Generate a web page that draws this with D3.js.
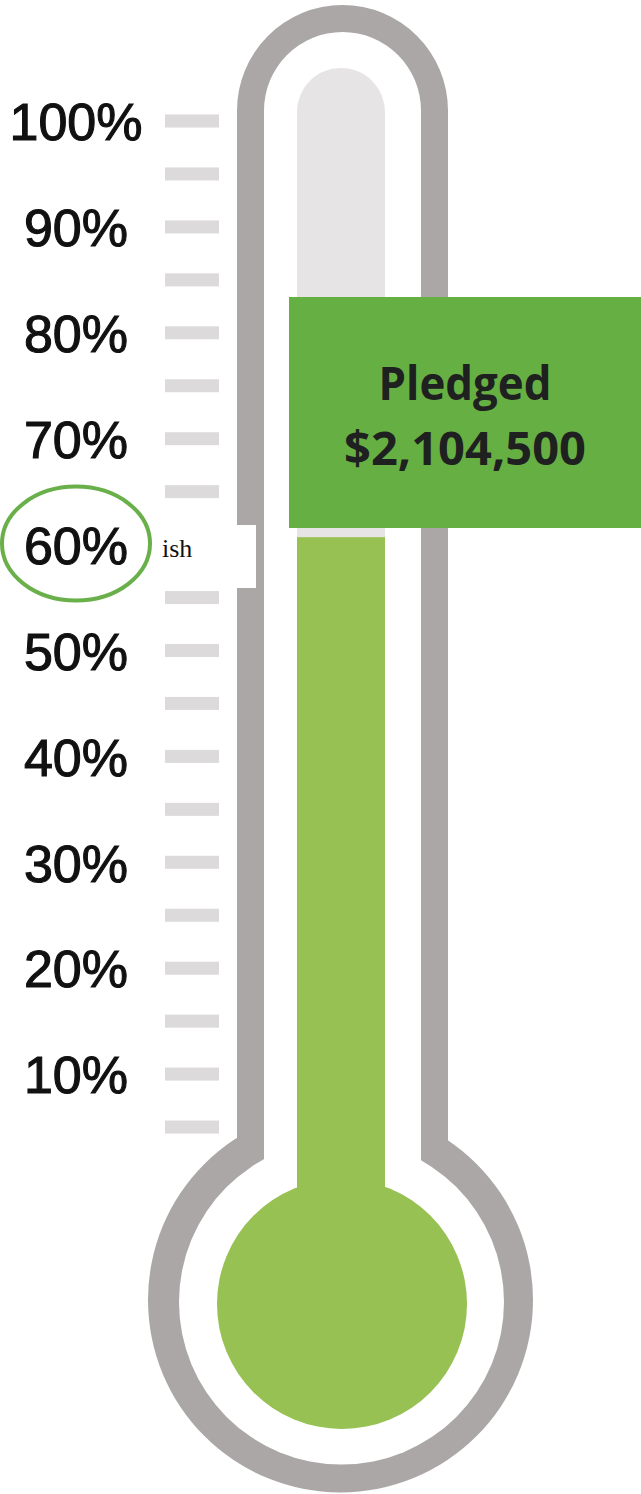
<!DOCTYPE html>
<html>
<head>
<meta charset="utf-8">
<script src="https://cdn.jsdelivr.net/npm/d3@7"></script>
<style>
  html, body { margin: 0; padding: 0; background: #ffffff; }
  svg { display: block; }
</style>
</head>
<body>
<svg id="chart" width="641" height="1494"></svg>
<script>
// ---- data ----
const tickValues = [5,10,15,20,25,30,35,40,45,50,55,60,65,70,75,80,85,90,95,100];
const labelValues = [100,90,80,70,60,50,40,30,20,10];
const highlightedLabel = 60;
const fillPercent = [60.7];
const calloutLines = ["Pledged", "$2,104,500"];
const noteText = ["ish"];

// ---- layout ----
const svg = d3.select("#chart");
const y = d3.scaleLinear().domain([0, 100]).range([1180, 121]);

const colors = {
  wall: "#aba7a6",
  tube: "#e6e4e5",
  tick: "#dcdadb",
  fill: "#97c152",
  box: "#66b043",
  ring: "#6ab04a"
};

function tubePath(x0, x1, topY, bottomY) {
  const r = (x1 - x0) / 2;
  const p = d3.path();
  p.moveTo(x0, bottomY);
  p.lineTo(x0, topY + r);
  p.arc(x0 + r, topY + r, r, Math.PI, 0);
  p.lineTo(x1, bottomY);
  p.closePath();
  return p.toString();
}

// outer gray body
svg.append("path").attr("d", tubePath(237, 448, 5, 1300)).attr("fill", colors.wall);
svg.append("circle").attr("cx", 340.5).attr("cy", 1300).attr("r", 192.5).attr("fill", colors.wall);
// white inside
svg.append("path").attr("d", tubePath(264, 421, 32, 1300)).attr("fill", "#fff");
svg.append("circle").attr("cx", 341.5).attr("cy", 1302).attr("r", 162.5).attr("fill", "#fff");
// inner light tube
svg.append("path").attr("d", tubePath(297, 385, 68, 1200)).attr("fill", colors.tube);

// green fill
svg.append("rect")
  .attr("x", 297).attr("width", 88)
  .attr("y", y(fillPercent[0]))
  .attr("height", 1200 - y(fillPercent[0]))
  .attr("fill", colors.fill);
svg.append("circle").attr("cx", 342).attr("cy", 1304).attr("r", 125).attr("fill", colors.fill);

// tick marks
svg.append("g").selectAll("rect").data(tickValues).join("rect")
  .attr("x", 165).attr("width", 54)
  .attr("y", d => y(d) - 6.5).attr("height", 13)
  .attr("fill", colors.tick);

// labels
svg.append("g").selectAll("text").data(labelValues).join("text")
  .attr("x", 76).attr("y", d => y(d))
  .attr("dy", "0.37em")
  .attr("text-anchor", "middle")
  .attr("font-family", "'Liberation Sans', Arial, sans-serif")
  .attr("font-size", 52)
  .attr("fill", "#111")
  .attr("stroke", "#111")
  .attr("stroke-width", 1.1)
  .text(d => d + "%");

// highlight ring around label
svg.append("ellipse")
  .attr("cx", 76).attr("cy", y(highlightedLabel) - 1)
  .attr("rx", 74).attr("ry", 57)
  .attr("fill", "none")
  .attr("stroke", colors.ring)
  .attr("stroke-width", 4);

// white note box with "ish"
svg.append("rect")
  .attr("x", 155).attr("y", 525).attr("width", 101).attr("height", 63)
  .attr("fill", "#fff");
svg.append("text")
  .attr("x", 162).attr("y", 557)
  .attr("font-family", "'Liberation Serif', 'Times New Roman', serif")
  .attr("font-size", 26)
  .attr("fill", "#111")
  .text(noteText[0]);

// callout box
svg.append("rect")
  .attr("x", 289).attr("y", 297).attr("width", 352).attr("height", 231)
  .attr("fill", colors.box);
const calloutBaselines = [400, 465];
const calloutWidths = [173, 242];
svg.append("g").selectAll("text").data(calloutLines).join("text")
  .attr("x", 465)
  .attr("y", (d, i) => calloutBaselines[i])
  .attr("text-anchor", "middle")
  .attr("font-family", "'Open Sans', sans-serif")
  .attr("font-weight", 700)
  .attr("font-size", 47)
  .attr("textLength", (d, i) => calloutWidths[i])
  .attr("lengthAdjust", "spacingAndGlyphs")
  .attr("fill", "#1f2120")
  .text(d => d);
</script>
</body>
</html>
